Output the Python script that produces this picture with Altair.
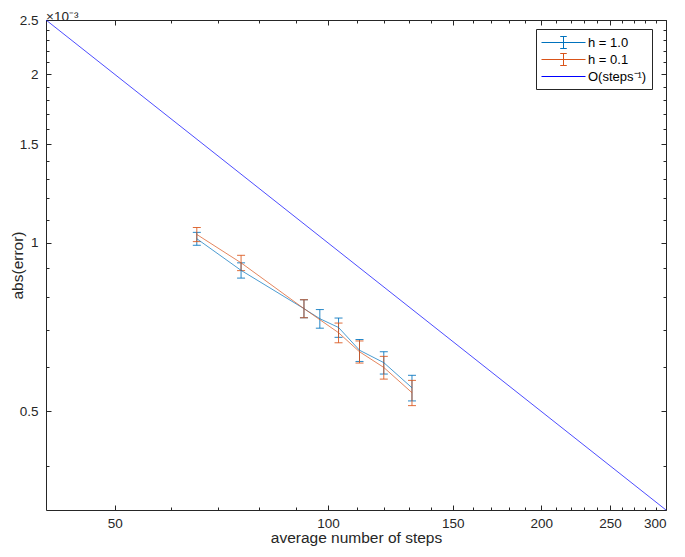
import altair as alt
import pandas as pd

# ---- data (abs(error) in units of 1e-3) ----
series_names = ["h = 1.0", "h = 0.1", "O(steps⁻¹)"]
series_colors = ["#0072BD", "#D95319", "#0000FF"]

steps_h10 = [65.3, 75.4, 92.5, 97.4, 103.5, 110.8, 119.9, 131.4]
abs_err_h10 = [1.017, 0.893, 0.763, 0.732, 0.706, 0.643, 0.611, 0.551]
bar_h10 = [0.027, 0.028, 0.028, 0.028, 0.028, 0.029, 0.028, 0.029]

steps_h01 = [65.3, 75.4, 92.5, 103.5, 110.8, 119.9, 131.4]
abs_err_h01 = [1.035, 0.921, 0.763, 0.691, 0.639, 0.599, 0.540]
bar_h01 = [0.030, 0.029, 0.028, 0.028, 0.029, 0.028, 0.028]

ref_steps = [40, 300]
ref_err = [2.5, 0.33333]

x_major = [50, 100, 150, 200, 250, 300]
x_minor = [60, 70, 80, 90, 110, 120, 130, 140, 160, 170, 180, 190,
           210, 220, 230, 240, 260, 270, 280, 290]
y_major = [0.5, 1, 1.5, 2, 2.5]
y_minor = [0.4, 0.6, 0.7, 0.8, 0.9, 1.1, 1.2, 1.3, 1.4, 1.6, 1.7, 1.8, 1.9,
           2.1, 2.2, 2.3, 2.4]

# ---- tables ----
df_h10 = pd.DataFrame({"steps": steps_h10, "err": abs_err_h10, "bar": bar_h10,
                       "series": series_names[0]})
df_h01 = pd.DataFrame({"steps": steps_h01, "err": abs_err_h01, "bar": bar_h01,
                       "series": series_names[1]})
df_ref = pd.DataFrame({"steps": ref_steps, "err": ref_err, "series": series_names[2]})
df_lines = pd.concat([df_h10[["steps", "err", "series"]],
                      df_h01[["steps", "err", "series"]], df_ref], ignore_index=True)

W, H = 620, 490
AX = "#262626"
FONT = "Liberation Sans"
TICK_FS = 13.5
LAB_FS = 15.5

xs = alt.Scale(type="log", domain=[40, 300], nice=False)
ys = alt.Scale(type="log", domain=[0.33333, 2.5], nice=False)


def tick_axis(orient, values, size, offset, domain=False):
    return alt.Axis(orient=orient, values=values, labels=False, ticks=True,
                    tickSize=size, tickColor=AX, tickWidth=1, domain=domain,
                    domainColor=AX, domainWidth=1, title=None, grid=False,
                    offset=offset)


# legend glyphs: a 44px line (with an error bar for the data series)
ebar_path = "M-1,0H4.5M1.75,-0.75V0.75M1.34,-0.75H2.16M1.34,0.75H2.16"
line_path = "M-1,0H4.5"
legend = alt.Legend(
    title=None, orient="none", legendX=W - 130, legendY=9,
    strokeColor=AX, fillColor="white", padding=5, cornerRadius=0,
    symbolSize=256, symbolStrokeWidth=1, symbolOpacity=1,
    labelFont=FONT, labelFontSize=13, labelColor="black", labelOffset=30,
    rowPadding=0,
)
color_scale = alt.Scale(domain=series_names, range=series_colors)

lines = alt.Chart(df_lines).mark_line(strokeWidth=1, opacity=0.7).encode(
    x=alt.X("steps:Q", scale=xs, axis=alt.Axis(
        orient="bottom", values=x_major, format="d", ticks=False, tickSize=0,
        domain=True, domainColor=AX, grid=False, labelFont=FONT,
        labelFontSize=TICK_FS, labelColor=AX, labelPadding=6,
        title="average number of steps", titleFont=FONT, titleFontSize=LAB_FS,
        titleFontWeight="normal", titleColor=AX, titlePadding=1)),
    y=alt.Y("err:Q", scale=ys, axis=alt.Axis(
        orient="left", values=y_major, format="~g", ticks=False, tickSize=0,
        domain=True, domainColor=AX, grid=False, labelFont=FONT,
        labelFontSize=TICK_FS, labelColor=AX, labelPadding=8,
        title="abs(error)", titleFont=FONT, titleFontSize=LAB_FS,
        titleFontWeight="normal", titleColor=AX, titleX=-29,
        titleBaseline="middle")),
    color=alt.Color("series:N", scale=color_scale, legend=legend),
)

# invisible points that only feed the legend (colour + glyph per series)
legend_pts = alt.Chart(df_lines).mark_point(size=0, filled=False).encode(
    x=alt.X("steps:Q", scale=xs, axis=None),
    y=alt.Y("err:Q", scale=ys, axis=None),
    color=alt.Color("series:N", scale=color_scale, legend=legend),
    shape=alt.Shape("series:N", scale=alt.Scale(
        domain=series_names, range=[ebar_path, ebar_path, line_path]),
        legend=legend),
)


def rules(df, color, xax, yax):
    return alt.Chart(df).transform_calculate(
        lo="datum.err - datum.bar", hi="datum.err + datum.bar"
    ).mark_rule(strokeWidth=1, opacity=0.85, color=color).encode(
        x=alt.X("steps:Q", scale=xs, axis=xax),
        y=alt.Y("lo:Q", scale=ys, axis=yax),
        y2="hi:Q",
    )


def caps(df, color, xax, yax):
    return alt.Chart(df).transform_calculate(
        lo="datum.err - datum.bar", hi="datum.err + datum.bar"
    ).transform_fold(["lo", "hi"], as_=["end", "yv"]).mark_tick(
        orient="horizontal", size=8, thickness=1, opacity=0.85, color=color
    ).encode(
        x=alt.X("steps:Q", scale=xs, axis=xax),
        y=alt.Y("yv:Q", scale=ys, axis=yax),
    )


l2 = rules(df_h10, series_colors[0],
           tick_axis("top", x_major, 5, -H), tick_axis("right", y_major, 5, -W))
l3 = rules(df_h01, series_colors[1],
           tick_axis("top", x_minor, 3, -H), tick_axis("right", y_minor, 3, -W))
l4 = caps(df_h10, series_colors[0],
          tick_axis("bottom", x_major, 5, -H, True),
          tick_axis("left", y_major, 5, -W, True))
l5 = caps(df_h01, series_colors[1],
          tick_axis("bottom", x_minor, 3, -H), tick_axis("left", y_minor, 3, -W))

chart = alt.layer(legend_pts, l2, l4, l3, l5, lines).resolve_axis(
    x="independent", y="independent"
).properties(
    width=W, height=H,
    autosize=alt.AutoSizeParams(type="none"),
    padding={"left": 38, "top": 12, "right": 11, "bottom": 39},
    title=alt.Title("×10⁻³", anchor="start", frame="group", fontSize=13.5,
                    font=FONT, fontWeight="normal", color=AX, offset=-10),
).configure_view(stroke=None).configure(background="white")

chart.save("out.html", embed_options={"renderer": "svg", "actions": False})
